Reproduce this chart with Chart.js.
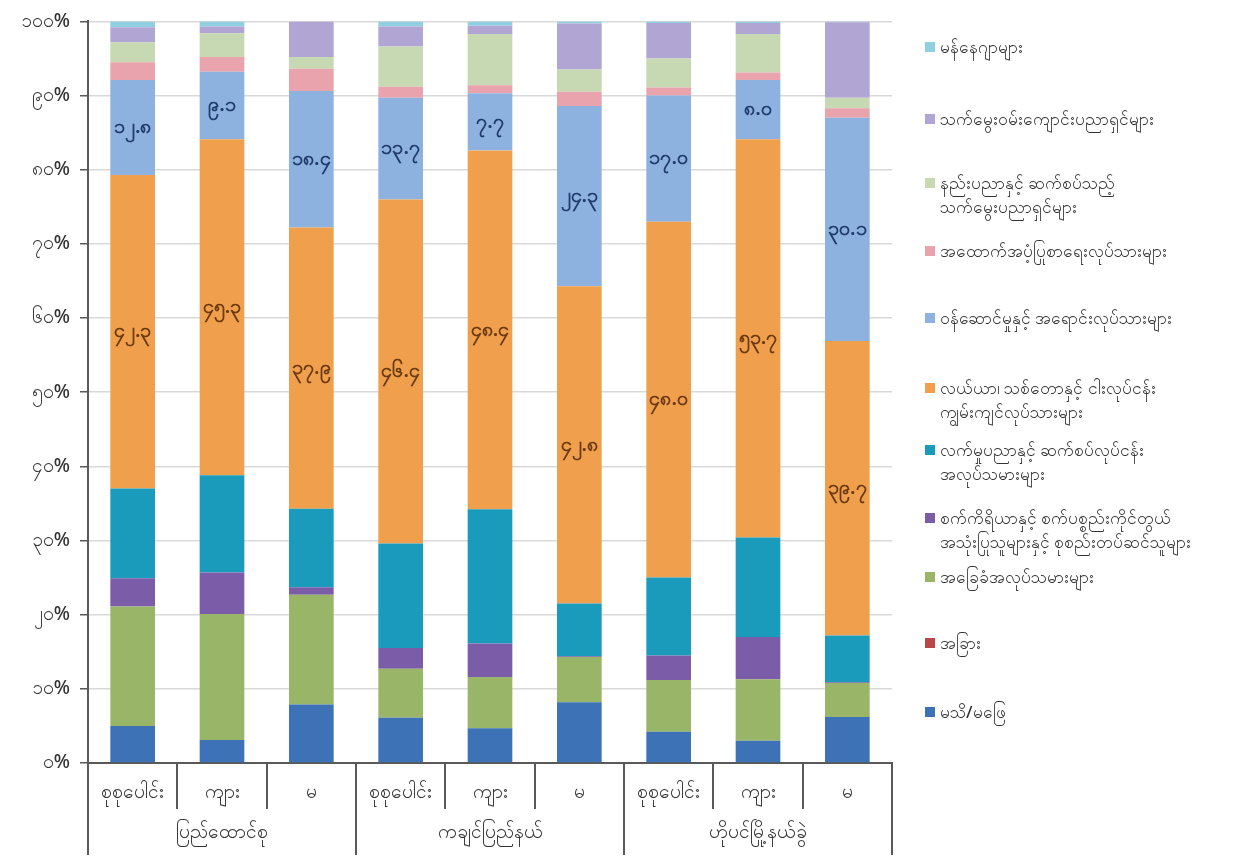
<!DOCTYPE html>
<html>
<head>
<meta charset="utf-8">
<script src="https://cdn.jsdelivr.net/npm/chart.js@4.4.1/dist/chart.umd.min.js"></script>
<style>
  body { margin: 0; background: #fff; }
  #wrap { position: relative; width: 1250px; height: 866px; }
  #legend { position: absolute; left: 0; top: 0; width: 1250px; height: 866px; pointer-events: none; }
  .item { position: absolute; left: 925px; font: 500 17px "Noto Sans", sans-serif; color: #333; line-height: 24px; white-space: pre-line; padding-left: 15px; }
  .item i { position: absolute; left: 0; top: 7px; width: 10px; height: 10px; }
</style>
</head>
<body>
<div id="wrap">
  <canvas id="chart"></canvas>
  <div id="legend"></div>
</div>
<script>
// sub categories and groups on the x axis
const subLabels = ['စုစုပေါင်း', 'ကျား', 'မ', 'စုစုပေါင်း', 'ကျား', 'မ', 'စုစုပေါင်း', 'ကျား', 'မ'];
const groupLabels = ['ပြည်ထောင်စု', 'ကချင်ပြည်နယ်', 'ဟိုပင်မြို့နယ်ခွဲ'];
const yTicks = [0, 10, 20, 30, 40, 50, 60, 70, 80, 90, 100];

// occupation shares (%), bottom of stack to top
const unknown      = [5.0, 3.1, 7.9, 6.1, 4.7, 8.2, 4.2, 3.0, 6.2];
const other        = [0, 0, 0, 0, 0, 0, 0, 0, 0];
const elementary   = [16.1, 17.0, 14.8, 6.6, 6.9, 6.1, 7.0, 8.3, 4.6];
const operators    = [3.8, 5.6, 1.0, 2.8, 4.5, 0.1, 3.3, 5.7, 0.1];
const craft        = [12.1, 13.1, 10.6, 14.1, 18.1, 7.1, 10.5, 13.4, 6.3];
const agriculture  = [42.3, 45.3, 37.9, 46.4, 48.4, 42.8, 48.0, 53.7, 39.7];
const service      = [12.8, 9.1, 18.4, 13.7, 7.7, 24.3, 17.0, 8.0, 30.1];
const clerical     = [2.4, 2.0, 3.0, 1.5, 1.1, 1.9, 1.1, 1.0, 1.3];
const technicians  = [2.7, 3.2, 1.6, 5.4, 6.9, 3.0, 3.9, 5.2, 1.4];
const professional = [2.0, 0.9, 4.8, 2.7, 1.1, 6.2, 4.8, 1.5, 10.2];
const managers     = [0.8, 0.7, 0.0, 0.7, 0.6, 0.3, 0.2, 0.2, 0.1];

const seriesNames = [
  'မသိ/မဖြေ',
  'အခြား',
  'အခြေခံအလုပ်သမားများ',
  'စက်ကိရိယာနှင့် စက်ပစ္စည်းကိုင်တွယ်\nအသုံးပြုသူများနှင့် စုစည်းတပ်ဆင်သူများ',
  'လက်မှုပညာနှင့် ဆက်စပ်လုပ်ငန်း\nအလုပ်သမားများ',
  'လယ်ယာ၊ သစ်တောနှင့် ငါးလုပ်ငန်း\nကျွမ်းကျင်လုပ်သားများ',
  'ဝန်ဆောင်မှုနှင့် အရောင်းလုပ်သားများ',
  'အထောက်အပံ့ပြုစာရေးလုပ်သားများ',
  'နည်းပညာနှင့် ဆက်စပ်သည့်\nသက်မွေးပညာရှင်များ',
  'သက်မွေးဝမ်းကျောင်းပညာရှင်များ',
  'မန်နေဂျာများ'
];
const seriesData = [unknown, other, elementary, operators, craft, agriculture, service, clerical, technicians, professional, managers];
const colors = ['#3d72b6', '#b8464b', '#99b567', '#7a5ca8', '#1b9bbc', '#f0a04d', '#8eb2df', '#e8a3ad', '#c6d9b3', '#b1a5d3', '#8fcfe0'];
// legend line positions (top line centre), top entry first
const legendY = [712, 643, 577, 518, 450, 388, 318, 251, 183, 119, 47];

const myDigits = s => String(s).replace(/[0-9]/g, d => String.fromCharCode(0x1040 + Number(d)));

// value labels inside the agriculture and service segments
const valueLabels = {
  id: 'valueLabels',
  afterDatasetsDraw(chart) {
    const ctx = chart.ctx;
    ctx.save();
    ctx.font = '600 20px "Noto Sans", sans-serif';
    ctx.textAlign = 'center';
    ctx.textBaseline = 'middle';
    chart.data.datasets.forEach((ds, i) => {
      if (!ds.labelColor) return;
      ctx.fillStyle = ds.labelColor;
      chart.getDatasetMeta(i).data.forEach((bar, j) => {
        ctx.fillText(myDigits(ds.data[j].toFixed(1)), bar.x, (bar.y + bar.base) / 2);
      });
    });
    ctx.restore();
  }
};

// separators and group names under the x axis
const groupAxis = {
  id: 'groupAxis',
  afterDraw(chart) {
    const { ctx, chartArea } = chart;
    const x = chart.scales.x;
    const w = x.getPixelForValue(1) - x.getPixelForValue(0);
    const x0 = x.getPixelForValue(0) - w / 2;
    ctx.save();
    ctx.strokeStyle = '#595959';
    ctx.lineWidth = 2;
    for (let i = 0; i <= subLabels.length; i++) {
      const px = Math.round(x0 + i * w);
      const len = i % 3 === 0 ? 92 : 46;
      ctx.beginPath();
      ctx.moveTo(px, chartArea.bottom);
      ctx.lineTo(px, chartArea.bottom + len);
      ctx.stroke();
    }
    ctx.fillStyle = '#333';
    ctx.font = '500 19px "Noto Sans", sans-serif';
    ctx.textAlign = 'center';
    ctx.textBaseline = 'middle';
    groupLabels.forEach((g, k) => {
      ctx.fillText(g, x.getPixelForValue(k * 3 + 1), chartArea.bottom + 70);
    });
    ctx.restore();
  }
};

const datasets = seriesData.map((d, i) => ({
  label: seriesNames[i],
  data: d,
  backgroundColor: colors[i],
  borderWidth: 0,
  barPercentage: 0.5,
  categoryPercentage: 1.0,
  labelColor: i === 5 ? '#6b3a12' : (i === 6 ? '#1f3a6e' : null)
}));

new Chart(document.getElementById('chart'), {
  type: 'bar',
  data: { labels: subLabels, datasets: datasets },
  options: {
    responsive: true,
    maintainAspectRatio: false,
    animation: false,
    layout: { padding: { top: 20, right: 358, left: 0, bottom: 0 } },
    plugins: { legend: { display: false }, tooltip: { enabled: false } },
    scales: {
      x: {
        stacked: true,
        grid: { display: false },
        border: { color: '#595959', width: 2 },
        ticks: { color: '#333', font: { size: 19, weight: '500', family: '"Noto Sans", sans-serif' }, padding: 10 },
        afterFit(scale) { scale.height = 103; }
      },
      y: {
        stacked: true,
        min: 0,
        max: 100,
        afterBuildTicks(scale) { scale.ticks = yTicks.map(v => ({ value: v })); },
        ticks: {
          color: '#333',
          font: { size: 19, weight: '500', family: '"Noto Sans", sans-serif' },
          padding: 10,
          callback: v => myDigits(v) + '%'
        },
        grid: { color: '#d9d9d9', lineWidth: 1.5, tickColor: '#595959', tickLength: 8 },
        border: { color: '#595959', width: 2 },
        afterFit(scale) { scale.width = 88; }
      }
    }
  },
  plugins: [valueLabels, groupAxis]
});

// legend, top entry is the last series
const legend = document.getElementById('legend');
seriesNames.forEach((name, i) => {
  const el = document.createElement('div');
  el.className = 'item';
  el.style.top = (legendY[i] - 12) + 'px';
  el.innerHTML = '<i style="background:' + colors[i] + '"></i>';
  el.appendChild(document.createTextNode(name));
  legend.appendChild(el);
});
</script>
</body>
</html>
